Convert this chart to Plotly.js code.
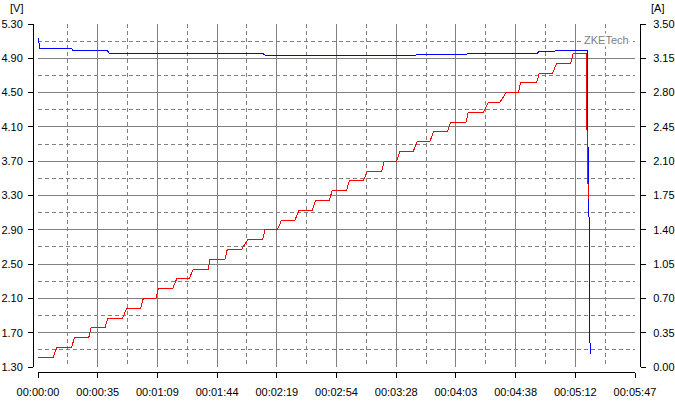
<!DOCTYPE html>
<html>
<head>
<meta charset="utf-8">
<script src="https://cdn.plot.ly/plotly-3.0.1.min.js"></script>
<style>html,body{margin:0;padding:0;background:#fff;}#chart{width:675px;height:401px;}
#chart .scatterlayer path.js-line{shape-rendering:crispEdges;}</style>
</head>
<body>
<div id="chart"></div>
<script>
// Elapsed time in seconds and measured current [A] (red, right axis)
const timeCurrent = [0, 8.9, 10.9, 19.6, 21.1, 29.5, 30.8, 38.9, 40.7, 49.2, 51.6, 59.7, 61.2, 68.6, 69.9, 78.3,
  80.6, 87.9, 90.3, 99.0, 100.0, 108.7, 110.0, 118.4, 121.9, 130.6, 131.9, 139.1, 141.6, 149.4, 151.7, 159.4,
  161.4, 169.3, 171.0, 179.4, 180.9, 189.1, 191.4, 199.8, 201.3, 208.5, 210.4, 218.1, 220.4, 227.8, 229.8, 237.9,
  239.9, 248.8, 250.1, 258.8, 261.7, 268.5, 272.0, 279.2, 280.5, 289.8, 291.4, 299.1, 301.5, 309.6, 311.1, 318.9,
  319.2, 320.1];
const current = [0.1, 0.1, 0.2, 0.2, 0.3, 0.3, 0.4, 0.4, 0.5, 0.5, 0.6, 0.6, 0.7, 0.7, 0.8, 0.8,
  0.9, 0.9, 1.0, 1.0, 1.1, 1.1, 1.2, 1.2, 1.3, 1.3, 1.4, 1.4, 1.5, 1.5, 1.6, 1.6,
  1.7, 1.7, 1.8, 1.8, 1.9, 1.9, 2.0, 2.0, 2.1, 2.1, 2.2, 2.2, 2.3, 2.3, 2.4, 2.4,
  2.5, 2.5, 2.6, 2.6, 2.7, 2.7, 2.8, 2.8, 2.9, 2.9, 3.0, 3.0, 3.1, 3.1, 3.2, 3.2,
  2.06, 1.71];

// Elapsed time in seconds and measured voltage [V] (blue, left axis)
const timeVoltage = [0, 1.2, 19.6, 20.3, 40.3, 41.4, 130.4, 132.5, 219.1, 220.0, 238.9, 239.8, 249.5, 250.5,
  290.2, 291.0, 299.9, 300.8, 319.3, 319.5, 320.2, 320.4, 320.9];
const voltage = [5.14, 5.01, 5.01, 4.99, 4.99, 4.96, 4.96, 4.93, 4.93, 4.94, 4.94, 4.95, 4.95, 4.96,
  4.96, 4.975, 4.975, 4.99, 4.99, 4.10, 3.24, 2.33, 1.45];

// Axis ticks
const xTickSeconds = [0, 34.7, 69.4, 104.1, 138.8, 173.5, 208.2, 242.9, 277.6, 312.3, 347];
const xTickLabels = ["00:00:00", "00:00:35", "00:01:09", "00:01:44", "00:02:19", "00:02:54",
  "00:03:28", "00:04:03", "00:04:38", "00:05:12", "00:05:47"];
const voltTicks = [1.3, 1.7, 2.1, 2.5, 2.9, 3.3, 3.7, 4.1, 4.5, 4.9, 5.3];
const ampTicks = [0, 0.35, 0.7, 1.05, 1.4, 1.75, 2.1, 2.45, 2.8, 3.15, 3.5];

const GRID = '#808080';
const DASH = '4px,3px';
const FONT = {family: 'Liberation Sans, Arial, sans-serif', size: 11, color: '#000'};

const traces = [
  {x: timeVoltage, y: voltage, type: 'scatter', mode: 'lines', xaxis: 'x', yaxis: 'y',
   line: {color: '#0000ff', width: 1}, hoverinfo: 'skip'},
  {x: timeCurrent, y: current, type: 'scatter', mode: 'lines', xaxis: 'x', yaxis: 'y2',
   line: {color: '#ff0000', width: 1}, hoverinfo: 'skip'}
];

const W = 612, H = 348; // plotting paper size (675-28-35, 401-24-29)
const layout = {
  width: 675, height: 401,
  margin: {l: 28, r: 35, t: 24, b: 29, pad: 0},
  paper_bgcolor: '#fff', plot_bgcolor: '#fff',
  showlegend: false,
  font: FONT,
  hovermode: false,
  xaxis: {
    domain: [10 / W, 607 / W], anchor: 'free', position: 0,
    range: [0, 347], tickmode: 'array', tickvals: xTickSeconds, ticktext: xTickLabels,
    ticks: 'outside', ticklen: 5, tickcolor: '#000', tickwidth: 1,
    showline: true, linecolor: '#000', linewidth: 1,
    showgrid: true, gridcolor: GRID, gridwidth: 1, zeroline: false,
    minor: {tick0: 17.35, dtick: 34.7, showgrid: true, gridcolor: GRID, griddash: DASH, gridwidth: 1, ticks: ''},
    ticklabelstandoff: 5, tickfont: FONT, fixedrange: true
  },
  yaxis: {
    domain: [5 / H, 1], anchor: 'free', position: 5 / W,
    range: [1.3, 5.3], tickmode: 'array', tickvals: voltTicks, tickformat: '.2f',
    ticks: 'outside', ticklen: 5, tickcolor: '#000', tickwidth: 1,
    showline: true, linecolor: '#000', linewidth: 1,
    showgrid: true, gridcolor: GRID, gridwidth: 1, zeroline: false,
    minor: {tick0: 1.5, dtick: 0.4, showgrid: true, gridcolor: GRID, griddash: DASH, gridwidth: 1, ticks: ''},
    ticklabelstandoff: 3, tickfont: FONT, fixedrange: true
  },
  yaxis2: {
    overlaying: 'y', side: 'right', anchor: 'free', position: 1,
    range: [0, 3.5], tickmode: 'array', tickvals: ampTicks, tickformat: '.2f',
    ticks: 'outside', ticklen: 5, tickcolor: '#000', tickwidth: 1,
    showline: true, linecolor: '#000', linewidth: 1,
    showgrid: false, zeroline: false,
    ticklabelstandoff: 5, tickfont: FONT, fixedrange: true
  },
  annotations: [
    {text: '[V]', xref: 'paper', yref: 'paper', x: (16 - 28) / W, y: (372 - 7.5) / H,
     xanchor: 'center', yanchor: 'middle', showarrow: false, font: FONT},
    {text: '[A]', xref: 'paper', yref: 'paper', x: (658 - 28) / W, y: (372 - 7.5) / H,
     xanchor: 'center', yanchor: 'middle', showarrow: false, font: FONT},
    {text: 'ZKETech', xref: 'paper', yref: 'paper', x: (606.7 - 28) / W, y: (372 - 40) / H,
     xanchor: 'center', yanchor: 'middle', showarrow: false, bgcolor: '#fff', borderpad: 0,
     font: {family: FONT.family, size: 11, color: '#808080'}}
  ]
};

Plotly.newPlot('chart', traces, layout, {staticPlot: true, displayModeBar: false});
</script>
</body>
</html>
